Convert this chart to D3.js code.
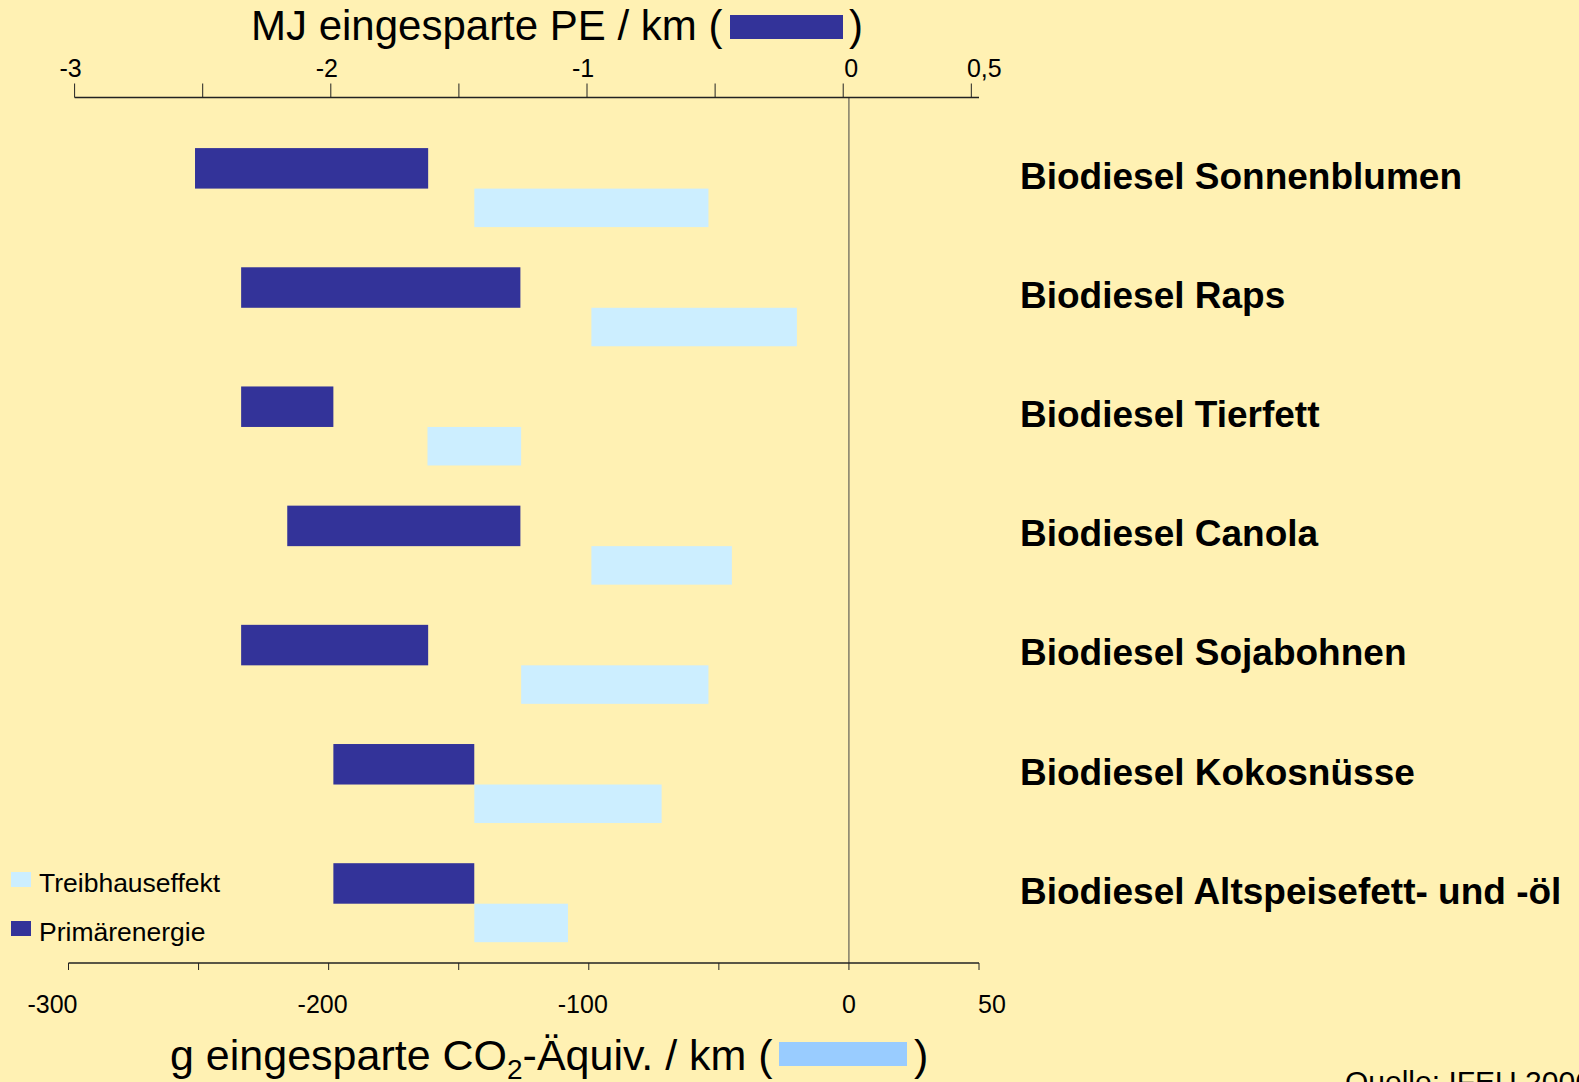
<!DOCTYPE html>
<html>
<head>
<meta charset="utf-8">
<title>Biodiesel – eingesparte PE und CO2</title>
<style>
  html, body { margin: 0; padding: 0; background: #fff1b3; }
  svg { display: block; font-family: "Liberation Sans", Arial, sans-serif; }
</style>
</head>
<body>
<svg width="1579" height="1082" viewBox="0 0 1579 1082"></svg>
<script src="https://cdnjs.cloudflare.com/ajax/libs/d3/7.8.5/d3.min.js"></script>
<script>
const categories = [
  'Biodiesel Sonnenblumen',
  'Biodiesel Raps',
  'Biodiesel Tierfett',
  'Biodiesel Canola',
  'Biodiesel Sojabohnen',
  'Biodiesel Kokosnüsse',
  'Biodiesel Altspeisefett- und -öl'
];
// MJ eingesparte PE / km  [von, bis]
const primaerenergie = [
  [-2.53, -1.62],
  [-2.35, -1.26],
  [-2.35, -1.99],
  [-2.17, -1.26],
  [-2.35, -1.62],
  [-1.99, -1.44],
  [-1.99, -1.44]
];
// g eingesparte CO2-Äquiv. / km  [von, bis]
const treibhauseffekt = [
  [-144, -54],
  [-99, -20],
  [-162, -126],
  [-99, -45],
  [-126, -54],
  [-144, -72],
  [-144, -108]
];
const topTicks = [-3, -2.5, -2, -1.5, -1, -0.5, 0, 0.5];
const topLabels = [-3, -2, -1, 0, 0.5];
const bottomTicks = [-300, -250, -200, -150, -100, -50, 0, 50];
const bottomLabels = [-300, -200, -100, 0, 50];

const dark = '#333399';
const light = '#cceeff';
const lightKey = '#99ccff';
const ink = '#000';

const svg = d3.select('svg');
const de = d3.formatLocale({ decimal: ',', thousands: '.', grouping: [3], currency: ['', '€'], minus: '-' });
const fmt = de.format('');

const xPE = d3.scaleLinear().domain([-3, 0.53]).range([74.6, 979]);
const xCO = d3.scaleLinear().domain([-300, 50]).range([68.5, 979]);
const y = d3.scaleBand().domain(categories).range([129, 963.3]);
const barH = 39.5;
const topY = 97.5;
const botY = 963;

// zero line
svg.append('line')
  .attr('x1', xCO(0)).attr('x2', xCO(0))
  .attr('y1', topY).attr('y2', botY)
  .attr('stroke', '#444').attr('stroke-width', 1);

// bars
const g = svg.selectAll('.cat').data(categories).join('g')
  .attr('class', 'cat')
  .attr('transform', d => `translate(0,${y(d) + y.bandwidth() / 2})`);

g.append('rect')
  .attr('x', (d, i) => xPE(primaerenergie[i][0]))
  .attr('width', (d, i) => xPE(primaerenergie[i][1]) - xPE(primaerenergie[i][0]))
  .attr('y', -barH - 1)
  .attr('height', barH + 1)
  .attr('fill', dark);

g.append('rect')
  .attr('x', (d, i) => xCO(treibhauseffekt[i][0]))
  .attr('width', (d, i) => xCO(treibhauseffekt[i][1]) - xCO(treibhauseffekt[i][0]))
  .attr('y', 0)
  .attr('height', barH - 1)
  .attr('fill', light);

g.append('text')
  .attr('x', 1020)
  .attr('y', 0)
  .attr('font-size', '37px')
  .attr('font-weight', 'bold')
  .attr('fill', ink)
  .text(d => d);

// top axis
svg.append('line')
  .attr('x1', xPE.range()[0]).attr('x2', xPE.range()[1])
  .attr('y1', topY).attr('y2', topY)
  .attr('stroke', '#222').attr('stroke-width', 1.5);
svg.selectAll('.tt').data(topTicks).join('line')
  .attr('class', 'tt')
  .attr('x1', d => xPE(d)).attr('x2', d => xPE(d))
  .attr('y1', topY - 14).attr('y2', topY)
  .attr('stroke', '#222');
svg.selectAll('.tl').data(topLabels).join('text')
  .attr('class', 'tl')
  .attr('x', d => xPE(d) + (d === 0.5 ? 13 : d === 0 ? 8 : -4))
  .attr('y', 68)
  .attr('dy', '0.35em')
  .attr('text-anchor', 'middle')
  .attr('font-size', '25px')
  .attr('fill', ink)
  .text(d => fmt(d));

// bottom axis
svg.append('line')
  .attr('x1', xCO.range()[0]).attr('x2', xCO.range()[1])
  .attr('y1', botY).attr('y2', botY)
  .attr('stroke', '#222').attr('stroke-width', 1.5);
svg.selectAll('.bt').data(bottomTicks).join('line')
  .attr('class', 'bt')
  .attr('x1', d => xCO(d)).attr('x2', d => xCO(d))
  .attr('y1', botY).attr('y2', botY + 7)
  .attr('stroke', '#222');
svg.selectAll('.bl').data(bottomLabels).join('text')
  .attr('class', 'bl')
  .attr('x', d => xCO(d) + (d === 50 ? 13 : d === -300 ? -16 : d === 0 ? 0 : -6))
  .attr('y', 1004)
  .attr('dy', '0.35em')
  .attr('text-anchor', 'middle')
  .attr('font-size', '25px')
  .attr('fill', ink)
  .text(d => fmt(d));

// top title
svg.append('text')
  .attr('x', 251).attr('y', 39.5)
  .attr('font-size', '42px').attr('fill', ink)
  .text('MJ eingesparte PE / km (');
svg.append('rect')
  .attr('x', 730).attr('y', 15).attr('width', 113).attr('height', 24)
  .attr('fill', dark);
svg.append('text')
  .attr('x', 849).attr('y', 39.5)
  .attr('font-size', '42px').attr('fill', ink)
  .text(')');

// bottom title
const bt = svg.append('text')
  .attr('x', 170).attr('y', 1070)
  .attr('font-size', '43px').attr('fill', ink);
bt.append('tspan').text('g eingesparte CO');
bt.append('tspan').attr('font-size', '28px').attr('dy', 9).text('2');
bt.append('tspan').attr('dy', -9).text('-Äquiv. / km (');
svg.append('rect')
  .attr('x', 779).attr('y', 1042).attr('width', 128).attr('height', 24)
  .attr('fill', lightKey);
svg.append('text')
  .attr('x', 914).attr('y', 1070)
  .attr('font-size', '43px').attr('fill', ink)
  .text(')');

// legend
const legend = [
  { key: 'Treibhauseffekt', color: light, y: 872 },
  { key: 'Primärenergie', color: dark, y: 921 }
];
const lg = svg.selectAll('.lg').data(legend).join('g')
  .attr('class', 'lg')
  .attr('transform', d => `translate(11,${d.y})`);
lg.append('rect').attr('width', 20).attr('height', 15).attr('fill', d => d.color);
lg.append('text')
  .attr('x', 28).attr('y', 20)
  .attr('font-size', '26.5px').attr('fill', ink)
  .text(d => d.key);

// source
svg.append('text')
  .attr('x', 1345).attr('y', 1092)
  .attr('font-size', '30px').attr('fill', ink)
  .text('Quelle: IFEU 2006');
</script>
</body>
</html>
